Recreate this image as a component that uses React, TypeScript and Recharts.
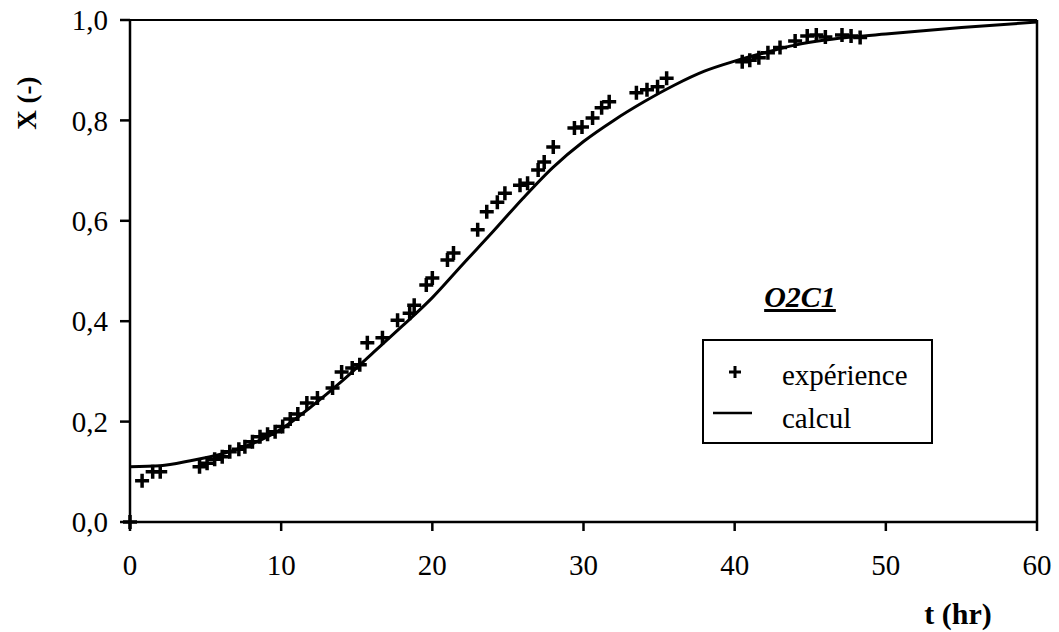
import { ComposedChart, Line, Scatter, XAxis, YAxis, ReferenceLine } from "recharts";

// experimental points (t in hr, X dimensionless)
const expT = [
  0, 0.8, 1.5, 2.0, 4.6, 5.1, 5.6, 6.1, 6.6, 7.2, 7.6, 8.1, 8.6, 9.1, 9.6, 10.1, 10.6, 11.1, 11.7, 12.4,
  13.4, 14.0, 14.7, 15.2, 15.7, 16.7, 17.7, 18.5, 18.8, 19.6, 20.0, 21.0, 21.4, 23.0, 23.6, 24.3, 24.8,
  25.8, 26.3, 27.0, 27.4, 28.0, 29.4, 29.9, 30.6, 31.2, 31.7, 33.5, 34.2, 34.9, 35.5, 40.5, 41.0, 41.6,
  42.2, 43.0, 44.0, 44.8, 45.4, 46.0, 47.1, 47.7, 48.3,
];
const expX = [
  0.0, 0.082, 0.1, 0.1, 0.11, 0.117, 0.125, 0.13, 0.14, 0.145, 0.15, 0.16, 0.17, 0.175, 0.18, 0.19, 0.205,
  0.215, 0.237, 0.247, 0.267, 0.299, 0.307, 0.313, 0.357, 0.367, 0.402, 0.416, 0.432, 0.472, 0.486, 0.522,
  0.536, 0.582, 0.618, 0.637, 0.655, 0.671, 0.675, 0.701, 0.717, 0.747, 0.785, 0.787, 0.805, 0.825, 0.837,
  0.855, 0.861, 0.867, 0.884, 0.917, 0.92, 0.925, 0.935, 0.945, 0.958, 0.968, 0.97, 0.966, 0.97, 0.968,
  0.965,
];

// model curve
const calcT = [0, 2, 4, 6, 8, 10, 12, 14, 16, 18, 20, 22, 24, 26, 28, 30, 32, 34, 36, 38, 40, 42, 44, 46, 48, 50, 55, 60];
const calcX = [
  0.11, 0.112, 0.122, 0.135, 0.155, 0.185, 0.23, 0.28, 0.335, 0.39, 0.447, 0.513, 0.578, 0.645, 0.707, 0.758,
  0.8, 0.837, 0.87, 0.898, 0.918, 0.935, 0.95, 0.96, 0.967, 0.972, 0.985, 0.996,
];

const xTicks = [0, 10, 20, 30, 40, 50, 60];
const yTicks = [0, 0.2, 0.4, 0.6, 0.8, 1.0];

const experience = expT.map((t, i) => ({ t, x: expX[i] }));
const calcul = calcT.map((t, i) => ({ t, x: calcX[i] }));

const FONT = "'Liberation Serif', Tinos, 'Times New Roman', 'DejaVu Serif', serif";

function Plus(props: any) {
  const { cx, cy } = props;
  if (cx == null || cy == null) return null;
  return <path d={`M${cx - 7},${cy}h14M${cx},${cy - 7}v14`} stroke="#000" strokeWidth={3.5} fill="none" />;
}

export default function App() {
  return (
    <div style={{ position: "absolute", left: 0, top: 0, width: 1059, height: 632, background: "#fff", fontFamily: FONT }}>
      <ComposedChart width={1059} height={632} margin={{ top: 20, right: 22, left: 70, bottom: 50 }}>
        <XAxis
          type="number"
          dataKey="t"
          domain={[0, 60]}
          ticks={xTicks}
          interval={0}
          height={60}
          tickSize={9}
          tickMargin={23}
          axisLine={{ stroke: "#000", strokeWidth: 2.5 }}
          tickLine={{ stroke: "#000", strokeWidth: 2.5 }}
          tick={{ fill: "#000", fontSize: 29, fontFamily: FONT }}
        />
        <YAxis
          type="number"
          dataKey="x"
          domain={[0, 1]}
          ticks={yTicks}
          interval={0}
          width={60}
          tickSize={10}
          tickMargin={12}
          tickFormatter={(v) => Number(v).toFixed(1).replace(".", ",")}
          axisLine={{ stroke: "#000", strokeWidth: 2.5 }}
          tickLine={{ stroke: "#000", strokeWidth: 2.5 }}
          tick={{ fill: "#000", fontSize: 29, fontFamily: FONT }}
        />
        <ReferenceLine y={1} stroke="#000" strokeWidth={2} />
        <ReferenceLine x={60} stroke="#000" strokeWidth={2.5} />
        <Line
          data={calcul}
          dataKey="x"
          type="monotone"
          stroke="#000"
          strokeWidth={3}
          dot={false}
          activeDot={false}
          isAnimationActive={false}
        />
        <Scatter data={experience} dataKey="x" shape={<Plus />} isAnimationActive={false} />
      </ComposedChart>
      <svg
        width={1059}
        height={632}
        style={{ position: "absolute", left: 0, top: 0, pointerEvents: "none" }}
        fontFamily={FONT}
      >
        <text
          x={27}
          y={103}
          textAnchor="middle"
          dominantBaseline="central"
          transform="rotate(-90 27 103)"
          fontSize={27}
          fontWeight="bold"
        >
          X (-)
        </text>
        <text x={958} y={624} textAnchor="middle" fontSize={30} fontWeight="bold">
          t (hr)
        </text>
        <text
          x={800}
          y={307}
          textAnchor="middle"
          fontSize={30}
          fontWeight="bold"
          fontStyle="italic"
          style={{ textDecoration: "underline" }}
        >
          O2C1
        </text>
        <g transform="translate(703,340)">
          <rect x={0} y={0} width={229} height={103} fill="#fff" stroke="#000" strokeWidth={2} />
          <path d="M26,32h12M32,26v12" stroke="#000" strokeWidth={3} />
          <text x={79} y={45} fontSize={29}>
            expérience
          </text>
          <line x1={10} y1={73} x2={49} y2={73} stroke="#000" strokeWidth={2.5} />
          <text x={79} y={88} fontSize={29}>
            calcul
          </text>
        </g>
      </svg>
    </div>
  );
}
